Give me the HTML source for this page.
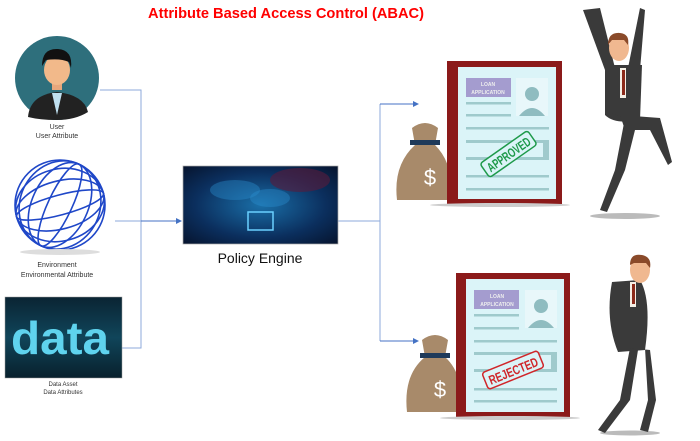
<!DOCTYPE html>
<html><head><meta charset="utf-8"><style>
html,body{margin:0;padding:0;background:#fff;}
svg{display:block;}
text{font-family:"Liberation Sans",sans-serif;}
</style></head><body>
<svg width="700" height="441" viewBox="0 0 700 441" xmlns="http://www.w3.org/2000/svg">
<defs>
<radialGradient id="pe" cx="0.5" cy="0.5" r="0.7">
<stop offset="0" stop-color="#1a6fa8"/><stop offset="0.6" stop-color="#0b2f5e"/><stop offset="1" stop-color="#06142e"/>
</radialGradient>
<linearGradient id="da" x1="0" y1="0" x2="0" y2="1">
<stop offset="0" stop-color="#0a2433"/><stop offset="0.5" stop-color="#10455a"/><stop offset="1" stop-color="#08202c"/>
</linearGradient>
<marker id="ar" markerWidth="6" markerHeight="6" refX="5" refY="3" orient="auto"><path d="M0,0 L6,3 L0,6 z" fill="#4472c4"/></marker>
</defs>
<text x="286" y="18" text-anchor="middle" font-size="15" font-weight="bold" fill="#ff0000" textLength="276" lengthAdjust="spacingAndGlyphs">Attribute Based Access Control (ABAC)</text>

<g stroke="#8eaadb" stroke-width="1" fill="none">
<polyline points="100,90 141,90 141,348 122,348"/>
<line x1="115" y1="221" x2="141" y2="221"/>
<line x1="141" y1="221" x2="181" y2="221" stroke="#4472c4" marker-end="url(#ar)"/>
<line x1="338" y1="221" x2="380" y2="221"/>
<polyline points="380,104 380,341"/>
<line x1="380" y1="104" x2="418" y2="104" stroke="#4472c4" marker-end="url(#ar)"/>
<line x1="380" y1="341" x2="418" y2="341" stroke="#4472c4" marker-end="url(#ar)"/>
</g>

<circle cx="57" cy="78" r="42" fill="#2e6f7c"/>
<path d="M28,117 Q30,95 57,92 Q84,95 88,112 Q75,120 57,120 Q40,120 28,117z" fill="#222"/>
<path d="M52,93 L57,115 L62,93z" fill="#bfe0f0"/>
<rect x="52" y="78" width="10" height="12" fill="#e8a77c"/>
<ellipse cx="57" cy="70" rx="13" ry="15" fill="#f2b98a"/>
<path d="M42,66 Q42,48 58,49 Q73,50 71,68 L69,62 Q60,58 46,60z" fill="#111"/>
<text x="57" y="129" text-anchor="middle" font-size="7" fill="#333">User</text>
<text x="57" y="138" text-anchor="middle" font-size="7" fill="#333">User Attribute</text>

<g fill="none" stroke="#1f47c8" stroke-width="1.6">
<circle cx="60" cy="205" r="45"/>
<ellipse cx="60" cy="205" rx="12" ry="45" transform="rotate(25 60 205)"/>
<ellipse cx="60" cy="205" rx="28" ry="45" transform="rotate(25 60 205)"/>
<ellipse cx="60" cy="205" rx="40" ry="45" transform="rotate(25 60 205)"/>
<ellipse cx="60" cy="205" rx="45" ry="10" transform="rotate(-15 60 205)"/>
<ellipse cx="60" cy="205" rx="45" ry="24" transform="rotate(-15 60 205)"/>
<ellipse cx="60" cy="205" rx="45" ry="36" transform="rotate(-15 60 205)"/>
</g>
<ellipse cx="60" cy="252" rx="40" ry="3" fill="#ddd"/>
<text x="57" y="267" text-anchor="middle" font-size="7" fill="#333">Environment</text>
<text x="57" y="277" text-anchor="middle" font-size="7" fill="#333">Environmental Attribute</text>

<rect x="5" y="297" width="117" height="81" fill="url(#da)" stroke="#999" stroke-width="0.5"/>
<text x="60" y="354" text-anchor="middle" font-size="46" font-weight="bold" fill="#5fd3ee" textLength="98" lengthAdjust="spacingAndGlyphs">data</text>
<text x="63" y="386" text-anchor="middle" font-size="6" fill="#333">Data Asset</text>
<text x="63" y="394" text-anchor="middle" font-size="6" fill="#333">Data Attributes</text>

<rect x="183" y="166" width="155" height="78" fill="url(#pe)" stroke="#aaa" stroke-width="0.7"/>
<ellipse cx="300" cy="180" rx="30" ry="12" fill="#5a1a3a" opacity="0.6"/>
<rect x="248" y="212" width="25" height="18" fill="none" stroke="#6ad0ff" stroke-width="1.5"/>
<ellipse cx="235" cy="190" rx="25" ry="10" fill="#2a8fd0" opacity="0.4"/>
<ellipse cx="270" cy="198" rx="20" ry="9" fill="#2a8fd0" opacity="0.4"/>
<text x="260" y="263" text-anchor="middle" font-size="14" fill="#111">Policy Engine</text>

<g>
<path d="M397,200 Q393,165 415,145 L412,128 Q425,118 438,128 L435,145 Q455,165 450,200z" fill="#a88a6a"/>
<rect x="410" y="140" width="30" height="5" fill="#1f3a5a"/>
<text x="430" y="185" text-anchor="middle" font-size="22" fill="#fff">$</text>
<rect x="447" y="61" width="115" height="144" fill="#8b1a1a"/>
<rect x="458" y="67" width="98" height="132" fill="#dbf4f8"/>
<rect x="466" y="78" width="45" height="19" fill="#a49ccf"/>
<text x="488" y="86" text-anchor="middle" font-size="5" font-weight="bold" fill="#eee">LOAN</text>
<text x="488" y="94" text-anchor="middle" font-size="5" font-weight="bold" fill="#eee">APPLICATION</text>
<rect x="516" y="78" width="32" height="38" fill="#e8f7fa"/>
<circle cx="532" cy="94" r="7" fill="#8fbcc0"/><path d="M519,116 Q532,100 545,116z" fill="#8fbcc0"/>
<g fill="#9fcacc"><rect x="466" y="102" width="45" height="2.5"/><rect x="466" y="114" width="45" height="2.5"/><rect x="466" y="127" width="83" height="2.5"/><rect x="466" y="140" width="83" height="20"/><rect x="466" y="175" width="83" height="2.5"/><rect x="466" y="188" width="83" height="2.5"/></g>
<rect x="466" y="143" width="77" height="14" fill="#dbf4f8"/>
<g transform="rotate(-35 508 155)"><rect x="480" y="146" width="58" height="17" rx="3" fill="#dbf4f8" stroke="#1e9a4a" stroke-width="1.5"/><text x="509" y="159.5" text-anchor="middle" font-size="13" font-weight="bold" fill="#1e9a4a" textLength="50" lengthAdjust="spacingAndGlyphs">APPROVED</text></g>
<ellipse cx="500" cy="205" rx="70" ry="2" fill="#ccc"/>
</g>

<ellipse cx="625" cy="216" rx="35" ry="3" fill="#bbb"/>
<g fill="#3a3a3a">
<path d="M583,10 L605,70 L615,68 L600,8z"/>
<path d="M640,8 L628,68 L640,70 L645,10z"/>
<path d="M605,65 L642,65 L640,120 Q615,125 605,115z"/>
<path d="M608,112 L625,118 L615,170 L600,210 L607,212 L625,170 L635,130z"/>
<path d="M620,115 L660,118 L672,162 L668,165 L650,130 L625,130z"/>
</g>
<rect x="620" y="68" width="6" height="30" fill="#f5f0e6"/><rect x="622" y="70" width="3" height="25" fill="#8b2a1a"/>
<ellipse cx="619" cy="48" rx="10" ry="13" fill="#f0b890"/>
<path d="M608,45 Q608,32 620,33 Q630,34 628,45 L624,40 L612,40z" fill="#8a4a2a"/>

<g>
<path d="M407,412 Q403,375 425,357 L422,340 Q435,330 448,340 L445,357 Q465,375 460,412z" fill="#a88a6a"/>
<rect x="420" y="353" width="30" height="5" fill="#1f3a5a"/>
<text x="440" y="397" text-anchor="middle" font-size="22" fill="#fff">$</text>
<rect x="456" y="273" width="114" height="145" fill="#8b1a1a"/>
<rect x="466" y="279" width="98" height="133" fill="#dbf4f8"/>
<rect x="474" y="290" width="45" height="19" fill="#a49ccf"/>
<text x="497" y="298" text-anchor="middle" font-size="5" font-weight="bold" fill="#eee">LOAN</text>
<text x="497" y="306" text-anchor="middle" font-size="5" font-weight="bold" fill="#eee">APPLICATION</text>
<rect x="525" y="290" width="32" height="38" fill="#e8f7fa"/>
<circle cx="541" cy="306" r="7" fill="#8fbcc0"/><path d="M528,328 Q541,312 554,328z" fill="#8fbcc0"/>
<g fill="#9fcacc"><rect x="474" y="314" width="45" height="2.5"/><rect x="474" y="327" width="45" height="2.5"/><rect x="474" y="340" width="83" height="2.5"/><rect x="474" y="352" width="83" height="20"/><rect x="474" y="388" width="83" height="2.5"/><rect x="474" y="400" width="83" height="2.5"/></g>
<rect x="474" y="355" width="77" height="14" fill="#dbf4f8"/>
<g transform="rotate(-22 513 370)"><rect x="483" y="361" width="60" height="18" rx="3" fill="#dbf4f8" stroke="#d0262a" stroke-width="1.5"/><text x="513" y="375.5" text-anchor="middle" font-size="13" font-weight="bold" fill="#d0262a" textLength="52" lengthAdjust="spacingAndGlyphs">REJECTED</text></g>
<ellipse cx="510" cy="418" rx="70" ry="2" fill="#ccc"/>
</g>

<ellipse cx="630" cy="433" rx="30" ry="2.5" fill="#bbb"/>
<g fill="#3a3a3a">
<path d="M612,282 L640,280 Q652,300 645,350 L618,352 Q605,320 612,282z"/>
<path d="M618,345 L630,348 L620,400 L598,430 L605,433 L630,400 L638,350z"/>
<path d="M630,348 L645,348 L648,400 L640,430 L648,432 L656,400 L650,350z"/>
</g>
<rect x="630" y="282" width="6" height="25" fill="#f5f0e6"/><rect x="632" y="284" width="3" height="20" fill="#8b2a1a"/>
<ellipse cx="640" cy="270" rx="10" ry="13" fill="#f0b890"/>
<path d="M630,265 Q630,253 642,255 Q652,257 650,268 L646,263 L634,263z" fill="#8a4a2a"/>
</svg>
</body></html>
